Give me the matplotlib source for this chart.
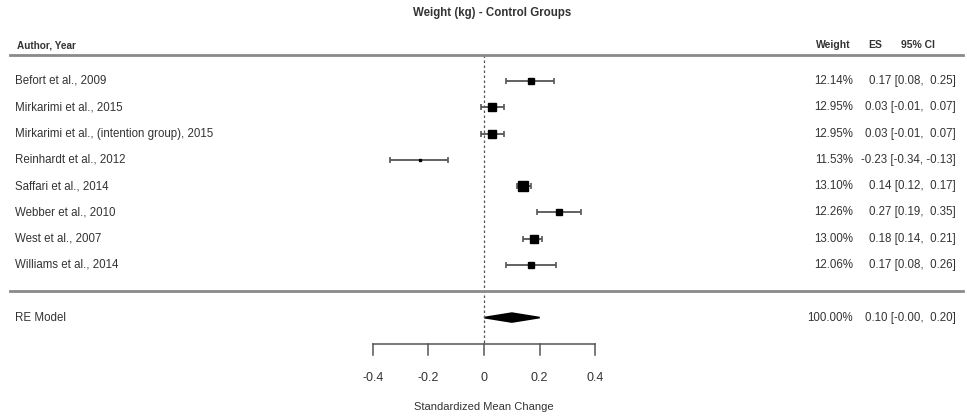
import numpy as np
import matplotlib
matplotlib.use("Agg")
import matplotlib.pyplot as plt
from matplotlib.patches import Polygon

plt.rcParams['font.family'] = ['Liberation Sans', 'DejaVu Sans']

# data
studies = [
    "Befort et al., 2009",
    "Mirkarimi et al., 2015",
    "Mirkarimi et al., (intention group), 2015",
    "Reinhardt et al., 2012",
    "Saffari et al., 2014",
    "Webber et al., 2010",
    "West et al., 2007",
    "Williams et al., 2014",
]
weights = [12.14, 12.95, 12.95, 11.53, 13.10, 12.26, 13.00, 12.06]
es = np.array([0.17, 0.03, 0.03, -0.23, 0.14, 0.27, 0.18, 0.17])
ci_lo = np.array([0.08, -0.01, -0.01, -0.34, 0.12, 0.19, 0.14, 0.08])
ci_hi = np.array([0.25, 0.07, 0.07, -0.13, 0.17, 0.35, 0.21, 0.26])
re_weight = 100.00
re_es, re_lo, re_hi = 0.10, -0.00, 0.20
xticks = [-0.4, -0.2, 0, 0.2, 0.4]
xticklabels = ["-0.4", "-0.2", "0", "0.2", "0.4"]

W, H = 967, 418
fig = plt.figure(figsize=(W / 100, H / 100), dpi=100)
ax = fig.add_axes([0, 0, 1, 1])
ax.set_xlim(-1.741, 1.737)
ax.set_ylim(-4.82, 11.08)
ax.axis("off")

txt = "#333333"
line_c = "#555555"
rule_c = "#8a8a8a"
fs = 8.3

def px(x):
    # pixel column -> axes fraction
    return x / W

tr = ax.get_yaxis_transform()
k = len(studies)
rows = np.arange(k, 0, -1)

# size of squares from precision
prec = 1 / (ci_hi - ci_lo)
psize = (prec - prec.min()) / (prec.max() - prec.min())
msizes = 2.0 + 4.6 * psize ** 0.35

for r, e, lo, hi, ms in zip(rows, es, ci_lo, ci_hi, msizes):
    ax.errorbar(e, r, xerr=[[e - lo], [hi - e]], fmt="none", ecolor=line_c,
                elinewidth=1.3, capsize=2.5, capthick=1.2, zorder=2)
    ax.plot(e, r, marker="s", ms=ms, color="black", zorder=3)

# RE model diamond
h = 0.17
ax.add_patch(Polygon([[re_lo, -1], [re_es, -1 + h], [re_hi, -1], [re_es, -1 - h]],
                     closed=True, facecolor="black", edgecolor="black", lw=1.2))

# reference line at 0
ax.plot([0, 0], [9, -2], ls=(0, (2, 2)), color=line_c, lw=0.9, zorder=1)

# horizontal rules
ax.plot([px(10), px(963)], [9, 9], transform=tr, color=rule_c, lw=2)
ax.plot([px(10), px(963)], [0, 0], transform=tr, color=rule_c, lw=2)

# x axis
ax.plot([xticks[0], xticks[-1]], [-2, -2], color=line_c, lw=1.1)
for t, lab in zip(xticks, xticklabels):
    ax.plot([t, t], [-2, -2.42], color=line_c, lw=1.1)
    ax.text(t, -3.28, lab, ha="center", va="center", fontsize=9, color=txt)
ax.text(0, -4.42, "Standardized Mean Change", ha="center", va="center",
        fontsize=8, color=txt)

# titles and headers
ax.text(0.03, 10.6, "Weight (kg) - Control Groups", ha="center", va="center",
        fontsize=8.3, fontweight="bold", color=txt)
ax.text(px(17), 9.35, "Author, Year", transform=tr, ha="left", va="center",
        fontsize=7.2, fontweight="bold", color=txt)
ax.text(px(833), 9.35, "Weight", transform=tr, ha="center", va="center",
        fontsize=7.5, fontweight="bold", color=txt)
ax.text(px(875), 9.35, "ES", transform=tr, ha="center", va="center",
        fontsize=7.5, fontweight="bold", color=txt)
ax.text(px(918), 9.35, "95% CI", transform=tr, ha="center", va="center",
        fontsize=7.5, fontweight="bold", color=txt)

def ci_text(e, lo, hi):
    return f"{e:.2f} [{lo:.2f}, {hi:5.2f}]"

for r, name, w, e, lo, hi in zip(rows, studies, weights, es, ci_lo, ci_hi):
    ax.text(px(15), r, name, transform=tr, ha="left", va="center", fontsize=fs, color=txt)
    ax.text(px(853), r, f"{w:.2f}%", transform=tr, ha="right", va="center",
            fontsize=fs, color=txt)
    ax.text(px(956), r, ci_text(e, lo, hi), transform=tr, ha="right",
            va="center", fontsize=fs, color=txt)

ax.text(px(15), -1, "RE Model", transform=tr, ha="left", va="center", fontsize=fs, color=txt)
ax.text(px(853), -1, f"{re_weight:.2f}%", transform=tr, ha="right", va="center",
        fontsize=fs, color=txt)
ax.text(px(956), -1, f"{re_es:.2f} [-0.00, {re_hi:5.2f}]", transform=tr, ha="right",
        va="center", fontsize=fs, color=txt)

fig.savefig("out.png", dpi=100)
